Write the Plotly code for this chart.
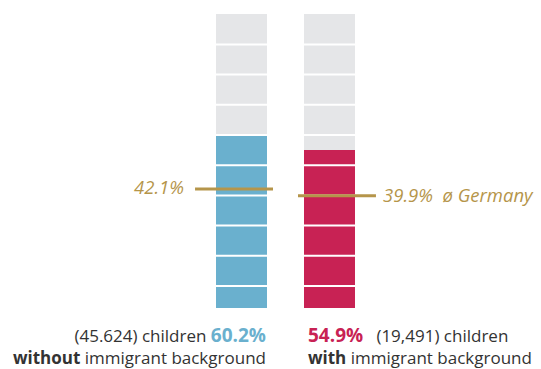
import plotly.graph_objects as go

# Data
groups = ["without immigrant background", "with immigrant background"]
shares = [60.2, 54.9]
averages = [42.1, 39.9]
counts = ["45.624", "19,491"]
bar_colors = ["#6AB0CE", "#C82254"]
segment_ticks = [10, 20, 30, 40, 50, 60, 70, 80, 90]

GOLD = "#B5954A"
GREY = "#E5E6E8"
TEXT = "#333333"
FONT = "Open Sans"

xs = [0, 1]
bw = 0.58

fig = go.Figure()
fig.add_trace(go.Bar(x=xs, y=[100, 100], width=bw, marker=dict(color=GREY, line=dict(width=0)),
                     hoverinfo="skip", showlegend=False))
fig.add_trace(go.Bar(x=xs, y=shares, width=bw, marker=dict(color=bar_colors, line=dict(width=0)),
                     hoverinfo="skip", showlegend=False))

# white segment separators
for x in xs:
    for t in segment_ticks:
        fig.add_shape(type="line", xref="x", yref="y", x0=x - bw / 2, x1=x + bw / 2, y0=t, y1=t,
                      line=dict(color="white", width=2))

# average lines
fig.add_shape(type="line", xref="x", yref="y", x0=xs[0] - 0.528, x1=xs[0] + 0.358,
              y0=averages[0], y1=averages[0], line=dict(color=GOLD, width=3))
fig.add_shape(type="line", xref="x", yref="y", x0=xs[1] - 0.358, x1=xs[1] + 0.528,
              y0=averages[1], y1=averages[1], line=dict(color=GOLD, width=3))

fig.add_annotation(x=xs[0] - 0.63, y=averages[0], xref="x", yref="y", xanchor="right", yanchor="middle",
                   text=f"<i>{averages[0]}%</i>", showarrow=False, yshift=3,
                   font=dict(family=FONT, size=18.5, color=GOLD))
fig.add_annotation(x=xs[1] + 0.585, y=averages[1], xref="x", yref="y", xanchor="left", yanchor="middle",
                   text=f"<i>{averages[1]}%&nbsp;&nbsp;ø Germany</i>", showarrow=False, yshift=1,
                   font=dict(family=FONT, size=18.5, color=GOLD))

# bottom labels (two lines each)
left_text = (f"({counts[0]}) children <b><span style='color:{bar_colors[0]};font-size:19px'>{shares[0]}%</span></b>"
             "<br><b>without</b> immigrant background")
right_text = (f"<b><span style='color:{bar_colors[1]};font-size:19px'>{shares[1]}%</span></b>&nbsp;&nbsp;&nbsp;({counts[1]}) children"
              "<br><b>with</b> immigrant background")
fig.add_annotation(x=xs[0] + bw / 2 + 0.005, y=0, xref="x", yref="paper", xanchor="right", yanchor="middle",
                   align="right", text=left_text, showarrow=False, yshift=-37.5, borderpad=0,
                   font=dict(family=FONT, size=17, color=TEXT))
fig.add_annotation(x=xs[1] - bw / 2 + 0.03, y=0, xref="x", yref="paper", xanchor="left", yanchor="middle",
                   align="left", text=right_text, showarrow=False, yshift=-37.5, borderpad=0,
                   font=dict(family=FONT, size=17, color=TEXT))

fig.update_layout(
    width=541, height=369,
    margin=dict(l=0, r=0, t=14, b=61),
    paper_bgcolor="white", plot_bgcolor="white",
    barmode="overlay", bargap=0,
    xaxis=dict(range=[-241.5 / 88, (541 - 241.5) / 88], visible=False, fixedrange=True),
    yaxis=dict(range=[2.72, 100.07], visible=False, fixedrange=True),
    showlegend=False,
)

fig.write_html("out.html", config={"displayModeBar": False},
               post_script="document.body.style.margin='0px';document.body.style.overflow='hidden';")
